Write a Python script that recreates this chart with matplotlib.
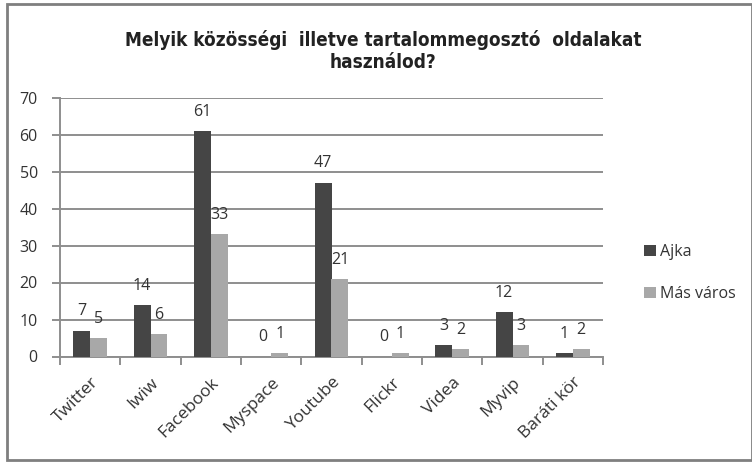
import matplotlib
matplotlib.use("Agg")
import matplotlib.pyplot as plt
import numpy as np
from matplotlib.patches import Rectangle

categories = ["Twitter", "Iwiw", "Facebook", "Myspace", "Youtube", "Flickr", "Videa", "Myvip", "Baráti kör"]
ajka = [7, 14, 61, 0, 47, 0, 3, 12, 1]
mas_varos = [5, 6, 33, 1, 21, 1, 2, 3, 2]
series_names = ["Ajka", "Más város"]
yticks = [0, 10, 20, 30, 40, 50, 60, 70]
title = "Melyik közösségi  illetve tartalommegosztó  oldalakat\nhasználod?"

c_ajka = "#454545"
c_mas = "#a8a8a8"
grid_c = "#8e8e8e"
txt_c = "#333333"
lab_font = ["Open Sans", "DejaVu Sans"]
fs = 11.5

fig = plt.figure(figsize=(7.52, 4.62), dpi=100)
W, H = 752, 462
ax = fig.add_axes([60 / W, 1 - 356.5 / H, (603 - 60) / W, (356.5 - 97.5) / H])

x = np.arange(len(categories))
bw = 0.28
b1 = ax.bar(x - bw / 2, ajka, bw, color=c_ajka, label=series_names[0], zorder=3)
b2 = ax.bar(x + bw / 2, mas_varos, bw, color=c_mas, label=series_names[1], zorder=3)

for rects, vals in ((b1, ajka), (b2, mas_varos)):
    for r, v in zip(rects, vals):
        ax.annotate(str(v), (r.get_x() + r.get_width() / 2, v), xytext=(0, 8),
                    textcoords="offset points", ha="center", va="bottom",
                    fontsize=fs, color=txt_c, family=lab_font)

ax.set_xlim(-0.5, len(categories) - 0.5)
ax.set_ylim(0, 70)
ax.set_yticks(yticks)
ax.set_yticklabels([str(t) for t in yticks], fontsize=fs, color=txt_c, family=lab_font)
ax.yaxis.grid(True, color=grid_c, linewidth=1.4, zorder=0)
ax.set_axisbelow(True)

ax.set_xticks(np.arange(len(categories) + 1) - 0.5, minor=False)
ax.set_xticklabels([])
ax.set_xticks(x, minor=True)
ax.set_xticklabels(categories, minor=True, rotation=45, ha="right", va="top",
                   rotation_mode="anchor", fontsize=12.5, color=txt_c, family=lab_font)
ax.tick_params(axis="x", which="minor", length=0, pad=13)
ax.tick_params(axis="x", which="major", length=6, color=grid_c, width=1.4, direction="out")
ax.tick_params(axis="y", length=6, color=grid_c, width=1.4, pad=10)

for s in ["top", "right"]:
    ax.spines[s].set_visible(False)
for s in ["left", "bottom"]:
    ax.spines[s].set_color(grid_c)
    ax.spines[s].set_linewidth(1.4)

fig.text(383 / W, 1 - 51 / H, title, ha="center", va="center", fontsize=13.6,
         fontweight="bold", fontstretch="condensed",
         family=["DejaVu Sans"], color="#222222", linespacing=1.25)

leg = fig.legend(handles=[b1, b2], labels=series_names, loc="upper left",
                 bbox_to_anchor=(630 / W, 1 - 230 / H), frameon=False,
                 handlelength=0.7, handleheight=0.7, handletextpad=0.3,
                 labelspacing=1.6, prop={"family": lab_font, "size": fs})
for t in leg.get_texts():
    t.set_color(txt_c)

fig.patches.append(Rectangle((7 / W, 2 / H), (W - 7) / W, (458 - 2) / H,
                             transform=fig.transFigure, fill=False,
                             edgecolor="#7f7f7f", linewidth=2))

fig.savefig("out.png", dpi=100)
